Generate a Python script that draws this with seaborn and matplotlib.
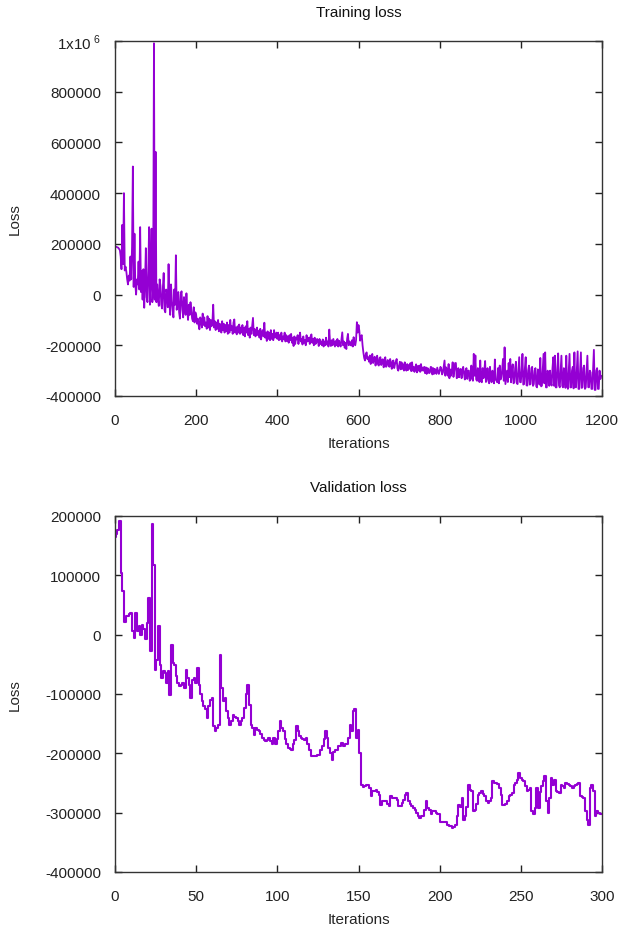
import numpy as np
import pandas as pd
import matplotlib
matplotlib.use("Agg")
import matplotlib.pyplot as plt
import seaborn as sns
from matplotlib.ticker import FuncFormatter, MultipleLocator

# ---------------- data (loss values in thousands) ----------------
train_step = 2
train_loss_k = [
    190, 189, 188, 186, 185, 180, 175, 150, 100, 275, 120, 400, 95, 110, 90, 60, 40, 75, 55, 150,
    60, 190, 505, 30, 240, 40, 0, 60, 40, 130, 20, 266, 10, 92, -20, 100, -52, 50, 183, -10,
    -30, 90, 266, -40, 60, 260, -30, 20, 991, -20,
    563, -30, 40, -20, -45, 60, 35, -40, -55, 30, 85, -60, -70, 20, 10, -50, 120, -30, -80, 40,
    -20, -60, -90, 20, -40, 155, -60, -20, 10, -70, -95, 0, 13, -60, -90, -10, -50, -80, 5, -60,
    -100, -40, -80, -30, -60, -95, -105, -50, -110, -70,
    -80, -115, -95, -120, -137, -90, -100, -130, -75, -120, -90, -125, -110, -135, -85, -130, -95, -140, -100, -125,
    -110, -40, -130, -105, -140, -110, -135, -100, -145, -115, -120, -150, -105, -140, -115, -150, -120, -145, -110, -155,
    -120, -150, -100, -140, -125, -155, -110, -98, -150, -130,
    -157, -125, -150, -118, -155, -130, -150, -120, -160, -131, -165, -125, -150, -105, -160, -135, -170, -130, -155, -125,
    -92, -160, -135, -165, -157, -130, -160, -144, -170, -135, -177, -150, -140, -165, -111, -170, -150, -183, -145, -175,
    -150, -180, -140, -175, -155, -180, -140, -170, -164, -150,
    -175, -150, -180, -160, -177, -150, -185, -165, -175, -150, -185, -160, -183, -165, -190, -160, -180, -155, -190, -170,
    -203, -165, -195, -170, -177, -160, -195, -170, -150, -185, -175, -197, -165, -190, -180, -200, -160, -185, -183, -170,
    -195, -165, -157, -190, -175, -200, -170, -195, -190, -175,
    -180, -203, -175, -195, -185, -200, -177, -205, -185, -200, -170, -197, -185, -205, -138, -190, -203, -180, -200, -175,
    -190, -205, -183, -200, -175, -205, -182, -195, -205, -175, -149, -200, -185, -210, -190, -215, -175, -155, -200, -185,
    -195, -201, -180, -205, -168, -195, -200, -180, -109, -150,
    -120, -142, -182, -165, -160, -200, -228, -250, -260, -235, -228, -255, -247, -265, -240, -274, -250, -234, -270, -254,
    -245, -280, -255, -241, -275, -280, -250, -247, -278, -260, -255, -287, -262, -247, -285, -280, -258, -267, -285, -254,
    -275, -293, -262, -260, -290, -274, -265, -254, -292, -300,
    -280, -265, -295, -267, -293, -275, -300, -267, -290, -300, -274, -298, -278, -293, -270, -302, -267, -300, -285, -305,
    -287, -275, -307, -282, -300, -280, -305, -274, -300, -288, -300, -285, -310, -287, -313, -290, -293, -310, -307, -285,
    -287, -315, -290, -313, -293, -300, -313, -288, -300, -313,
    -300, -285, -293, -315, -307, -285, -260, -320, -287, -300, -320, -274, -330, -295, -320, -300, -267, -325, -300, -270,
    -270, -330, -326, -290, -326, -300, -293, -330, -300, -285, -313, -335, -300, -290, -333, -300, -300, -340, -333, -280,
    -330, -340, -234, -320, -240, -335, -340, -290, -300, -345,
    -260, -340, -346, -290, -330, -300, -262, -345, -326, -290, -340, -350, -285, -330, -346, -300, -320, -350, -256, -335,
    -340, -346, -290, -350, -280, -335, -326, -295, -254, -340, -208, -353, -326, -300, -345, -270, -326, -254, -346, -300,
    -275, -350, -346, -290, -265, -350, -353, -300, -247, -345,
    -346, -300, -234, -355, -353, -290, -247, -358, -359, -300, -280, -355, -353, -290, -285, -360, -353, -300, -290, -362,
    -366, -295, -300, -355, -250, -362, -359, -300, -234, -350, -228, -366, -366, -300, -313, -360, -300, -350, -359, -290,
    -247, -360, -241, -366, -366, -290, -232, -358, -366, -300,
    -241, -360, -366, -290, -300, -368, -241, -350, -372, -300, -234, -366, -366, -300, -285, -370, -228, -360, -366, -290,
    -224, -372, -372, -300, -228, -368, -366, -290, -280, -372, -366, -300, -241, -365, -366, -300, -307, -372, -372, -290,
    -218, -376, -376, -300, -290, -372, -372, -300, -333, -320,
]

val_loss_k = [
    164, 169, 177, 191, 104, 73, 22, 31, 31, 35,
    37, 6, -6, 37, 6, 14, 0, 17, 10, -8,
    20, 62, -28, 187, 118, -59, -42, 14, -51, -73,
    -62, -65, -81, -62, -101, -17, -48, -51, -70, -81,
    -87, -84, -81, -90, -59, -73, -85, -107, -76, -73,
    -81, -56, -84, -100, -112, -120, -126, -140, -120, -110,
    -107, -154, -163, -158, -152, -34, -90, -112, -107, -129,
    -140, -152, -146, -135, -138, -140, -146, -152, -145, -140,
    -124, -100, -84, -118, -152, -157, -169, -157, -160, -163,
    -168, -174, -177, -180, -177, -174, -180, -185, -174, -185,
    -175, -163, -146, -157, -163, -175, -185, -191, -192, -194,
    -185, -177, -154, -163, -170, -174, -176, -177, -174, -185,
    -195, -205, -205, -205, -205, -203, -202, -195, -188, -175,
    -163, -174, -191, -200, -211, -197, -195, -194, -188, -188,
    -183, -188, -185, -185, -174, -152, -163, -129, -126, -174,
    -160, -200, -253, -256, -255, -253, -253, -258, -272, -264,
    -264, -261, -265, -270, -287, -281, -281, -281, -285, -289,
    -272, -275, -275, -276, -278, -289, -289, -284, -278, -270,
    -267, -281, -285, -289, -292, -295, -301, -305, -309, -306,
    -306, -295, -281, -292, -296, -303, -298, -298, -301, -303,
    -303, -315, -315, -315, -315, -320, -323, -323, -326, -324,
    -320, -306, -287, -290, -275, -312, -306, -290, -253, -261,
    -264, -298, -295, -285, -270, -267, -264, -268, -272, -280,
    -284, -280, -275, -247, -250, -250, -252, -258, -270, -287,
    -287, -285, -280, -272, -270, -267, -253, -250, -245, -233,
    -242, -245, -247, -255, -264, -262, -258, -298, -303, -292,
    -258, -292, -265, -255, -247, -239, -281, -301, -275, -242,
    -253, -245, -264, -266, -267, -253, -255, -258, -250, -252,
    -253, -255, -258, -255, -253, -252, -250, -272, -273, -275,
    -298, -312, -320, -258, -253, -264, -306, -298, -301, -302, -302,
]

train_df = pd.DataFrame({
    "Iterations": np.arange(len(train_loss_k)) * train_step,
    "Loss": np.array(train_loss_k) * 1000.0,
})
val_df = pd.DataFrame({
    "Iterations": np.arange(len(val_loss_k)),
    "Loss": np.array(val_loss_k) * 1000.0,
})

# ---------------- style ----------------
sns.set_style("ticks")
plt.rcParams["font.family"] = ["Liberation Sans", "DejaVu Sans"]
plt.rcParams["axes.unicode_minus"] = False
plt.rcParams["mathtext.fontset"] = "custom"
plt.rcParams["mathtext.rm"] = "Liberation Sans"

LINE = "#9400D3"
FS = 11

fig = plt.figure(figsize=(6.2, 9.28), dpi=100)
ax1 = fig.add_axes([115 / 620, 1 - 397 / 928, (602 - 115) / 620, (397 - 42) / 928])
ax2 = fig.add_axes([115 / 620, 1 - 873 / 928, (602 - 115) / 620, (873 - 517) / 928])


def yfmt(v, p):
    if abs(v - 1e6) < 1:
        return r"1x10$^{\ 6}$"
    return f"{int(round(v))}"


def style(ax, title, xmax, xstep, ymin, ymax, ystep):
    ax.set_xlim(0, xmax)
    ax.set_ylim(ymin, ymax)
    ax.xaxis.set_major_locator(MultipleLocator(xstep))
    ax.yaxis.set_major_locator(MultipleLocator(ystep))
    ax.yaxis.set_major_formatter(FuncFormatter(yfmt))
    ax.tick_params(direction="in", length=5, width=1, top=True, right=True,
                   labelsize=FS, colors="#222222")
    ax.tick_params(axis="y", pad=10)
    ax.tick_params(axis="x", pad=12)
    for s in ax.spines.values():
        s.set_visible(True)
        s.set_color("#333333")
        s.set_linewidth(1)
    ax.set_title(title, fontsize=FS, pad=18, color="#111111")
    ax.set_xlabel("Iterations", fontsize=FS, labelpad=7)
    ax.set_ylabel("Loss", fontsize=FS, labelpad=17)
    if ax.get_legend() is not None:
        ax.get_legend().remove()


sns.lineplot(data=train_df, x="Iterations", y="Loss", ax=ax1, color=LINE, linewidth=1.3)
sns.lineplot(data=val_df, x="Iterations", y="Loss", ax=ax2, color=LINE, linewidth=1.5,
             drawstyle="steps-mid")

style(ax1, "Training loss", 1200, 200, -400000, 1000000, 200000)
style(ax2, "Validation loss", 300, 50, -400000, 200000, 100000)

fig.savefig("out.png", dpi=100)
